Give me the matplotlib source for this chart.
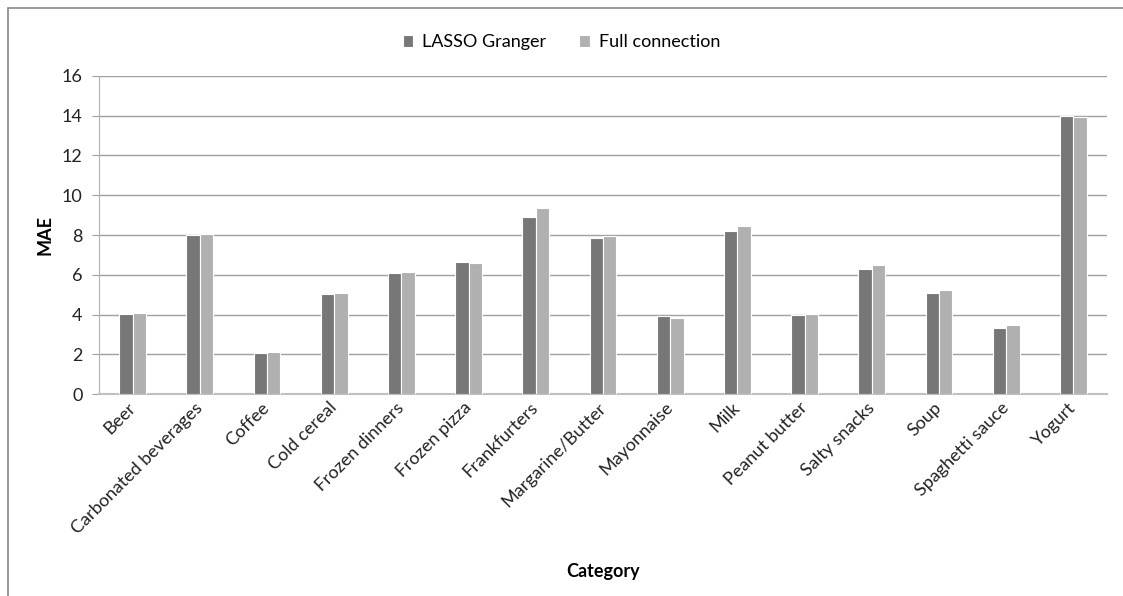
import matplotlib as mpl
mpl.use('Agg')
import matplotlib.pyplot as plt
import numpy as np
from matplotlib.patches import Rectangle

plt.rcParams['font.family'] = ['Lato', 'DejaVu Sans']

categories = ['Beer', 'Carbonated beverages', 'Coffee', 'Cold cereal', 'Frozen dinners',
              'Frozen pizza', 'Frankfurters', 'Margarine/Butter', 'Mayonnaise', 'Milk',
              'Peanut butter', 'Salty snacks', 'Soup', 'Spaghetti sauce', 'Yogurt']
lasso = [4.03, 8.00, 2.07, 5.04, 6.07, 6.62, 8.91, 7.85, 3.90, 8.22, 4.00, 6.29, 5.09, 3.34, 13.98]
full = [4.08, 8.05, 2.12, 5.09, 6.12, 6.57, 9.38, 7.95, 3.82, 8.45, 4.05, 6.47, 5.23, 3.45, 13.95]

fig = plt.figure(figsize=(11.23, 5.96), dpi=100)
ax = fig.add_axes([0.0882, 0.3389, 0.8976, 0.5336])

x = np.arange(len(categories))
w = 0.2
ax.bar(x - w / 2, lasso, w, color='#777777', edgecolor='white', linewidth=0.8,
       label='LASSO Granger', zorder=3)
ax.bar(x + w / 2, full, w, color='#b0b0b0', edgecolor='white', linewidth=0.8,
       label='Full connection', zorder=3)

ax.set_xlim(-0.5, len(categories) - 0.5)
ax.set_ylim(0, 16)
ax.set_yticks(np.arange(0, 17, 2))
ax.yaxis.grid(True, color='#a0a0a0', linewidth=1)
ax.set_axisbelow(True)
for s in ['top', 'right']:
    ax.spines[s].set_visible(False)
ax.spines['left'].set_color('#b0b0b0')
ax.spines['bottom'].set_color('#c0c0c0')
ax.spines['bottom'].set_linewidth(1.5)
ax.tick_params(axis='y', length=5, color='#a0a0a0', labelsize=13, labelcolor='#222222', pad=7)
ax.tick_params(axis='x', length=0, labelsize=13, labelcolor='#222222', pad=8)

ax.set_xticks(x)
ax.set_xticklabels(categories, rotation=45, ha='right', va='center', rotation_mode='anchor')
ax.set_xlabel('Category', fontsize=13, fontweight='bold')
ax.xaxis.set_label_coords(0.5, -0.53)
ax.set_ylabel('MAE', fontsize=13, fontweight='bold', labelpad=6)

ax.legend(loc='upper center', bbox_to_anchor=(0.5, 1.0), bbox_transform=fig.transFigure,
          ncol=2, frameon=False, fontsize=13, handlelength=0.6, handleheight=0.6,
          columnspacing=1.8, handletextpad=0.5, borderaxespad=1.5)

fig.patches.append(Rectangle((8 / 1123, -0.1), 1.2, 1 - 8 / 596 + 0.1,
                             transform=fig.transFigure, fill=False,
                             edgecolor='#888888', linewidth=1.2))

fig.savefig('out.png', dpi=100)
